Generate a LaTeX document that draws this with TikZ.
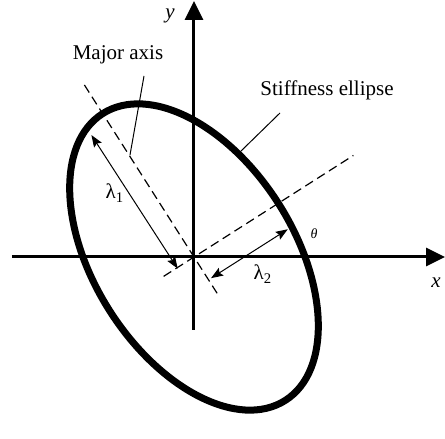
\documentclass[tikz,border=0pt]{standalone}
\usepackage{fontspec}
\setmainfont{Liberation Serif}
\usetikzlibrary{arrows.meta}
\tikzset{
  axisline/.style={line width=1.5pt,-{Triangle[length=9.5pt,width=9pt]}},
  ellstroke/.style={line width=3.5pt},
  princ/.style={line width=0.6pt,dash pattern=on 4.5pt off 2.5pt},
  dimline/.style={line width=0.5pt,{Stealth[length=6pt,width=4.5pt,inset=1pt]}-{Stealth[length=6pt,width=4.5pt,inset=1pt]}},
  leader/.style={line width=0.5pt},
  txt/.style={font=\fontsize{10.5}{12}\selectfont,inner sep=0pt},
  axlab/.style={txt,font=\fontsize{10.5}{12}\selectfont\itshape},
  anglab/.style={inner sep=0pt,font=\fontsize{7}{8}\selectfont\itshape},
}
\begin{document}
\begin{tikzpicture}[x=0.5pt,y=0.5pt]
  \useasboundingbox (-194,-182) rectangle (251,257);
  % axes
  \coordinate (xl) at (-182,0);
  \coordinate (xr) at (251,0);
  \coordinate (yb) at (0,-73);
  \coordinate (yt) at (0,256);
  \draw[axisline] (xl) -- (xr);
  \draw[axisline] (yb) -- (yt);
  \node[axlab] (xlab) at (242,-26) {x};
  \node[axlab] (ylab) at (-24,241) {y};
  % ellipse in its principal frame
  \begin{scope}[rotate=32.5]
    \draw[ellstroke] (0,0) ellipse [x radius=100,y radius=170];
    \coordinate (maja) at (0,-43);
    \coordinate (majb) at (0,205);
    \coordinate (mina) at (-36,0);
    \coordinate (minb) at (189,0);
    \coordinate (la) at (-20,-1);
    \coordinate (lb) at (-21,158);
    \coordinate (ma) at (3,-27);
    \coordinate (mb) at (94,-27);
  \end{scope}
  \draw[princ] (maja) -- (majb);
  \draw[princ] (mina) -- (minb);
  \draw[dimline] (la) -- (lb);
  \draw[dimline] (ma) -- (mb);
  \node[txt] (lam1) at (-79,64) {λ\textsubscript{1}};
  \node[txt] (lam2) at (69,-17) {λ\textsubscript{2}};
  \node[anglab] (theta) at (120,23) {θ};
  % callouts
  \node[txt] (major) at (-76,202) {Major axis};
  \node[txt] (stiff) at (133,167) {Stiffness ellipse};
  \coordinate (majp) at (-64,102);
  \coordinate (stiffp) at (46,105);
  \draw[leader] (-50,181) -- (majp);
  \draw[leader] (86,144) -- (stiffp);
\end{tikzpicture}
\end{document}
